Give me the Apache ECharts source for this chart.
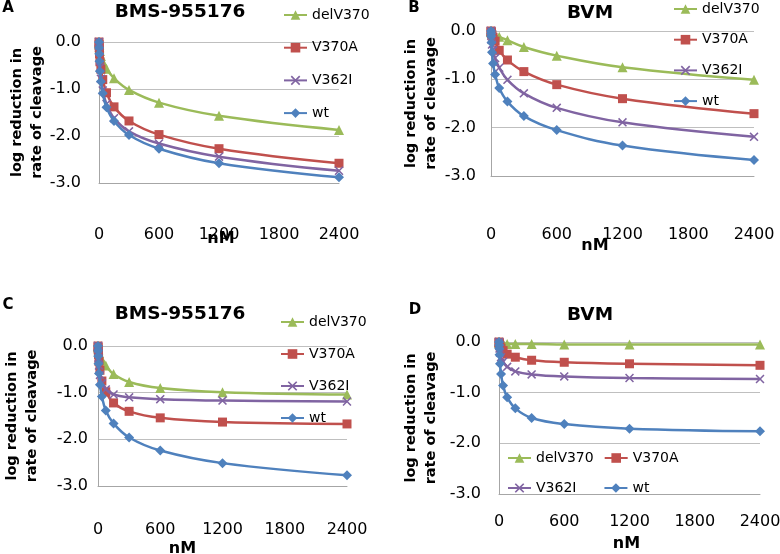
<!DOCTYPE html>
<html>
<head>
<meta charset="utf-8">
<script src="https://cdn.jsdelivr.net/npm/echarts@6/dist/echarts.min.js"></script>
<style>html,body{margin:0;padding:0;background:#fff}#c{width:780px;height:554px}</style>
</head>
<body>
<div id="c"></div>
<script>
// ---- data ----
const doses = [0, 1.17, 2.34, 4.69, 9.38, 18.75, 37.5, 75, 150, 300, 600, 1200, 2400];
const seriesNames = ['delV370', 'V370A', 'V362I', 'wt'];
const xTicks = [0, 600, 1200, 1800, 2400];
const yTicks = [0, -1, -2, -3];
const panelTitles = ['BMS-955176', 'BVM', 'BMS-955176', 'BVM'];
const panelLetters = ['A', 'B', 'C', 'D'];

const A_delV370 = [0, -0.03, -0.06, -0.11, -0.19, -0.30, -0.42, -0.57, -0.77, -1.02, -1.29, -1.57, -1.87];
const A_V370A   = [0, -0.05, -0.12, -0.25, -0.42, -0.58, -0.80, -1.08, -1.38, -1.68, -1.97, -2.27, -2.58];
const A_V362I   = [0, -0.09, -0.19, -0.34, -0.54, -0.78, -1.03, -1.32, -1.62, -1.90, -2.16, -2.44, -2.74];
const A_wt      = [0, -0.12, -0.25, -0.41, -0.62, -0.84, -1.09, -1.39, -1.68, -1.98, -2.27, -2.58, -2.88];

const B_delV370 = [0, -0.01, -0.02, -0.03, -0.05, -0.07, -0.09, -0.12, -0.19, -0.33, -0.51, -0.75, -1.01];
const B_V370A   = [0, -0.01, -0.03, -0.05, -0.08, -0.13, -0.21, -0.40, -0.60, -0.84, -1.11, -1.40, -1.71];
const B_V362I   = [0, -0.05, -0.10, -0.18, -0.28, -0.40, -0.56, -0.76, -1.01, -1.29, -1.59, -1.89, -2.19];
const B_wt      = [0, -0.05, -0.11, -0.24, -0.44, -0.67, -0.90, -1.18, -1.46, -1.76, -2.05, -2.37, -2.67];

const C_delV370 = [0, -0.02, -0.05, -0.09, -0.15, -0.22, -0.30, -0.42, -0.60, -0.77, -0.90, -0.99, -1.04];
const C_V370A   = [0, -0.03, -0.08, -0.18, -0.33, -0.52, -0.75, -0.98, -1.22, -1.40, -1.54, -1.63, -1.67];
const C_V362I   = [0, -0.06, -0.13, -0.25, -0.42, -0.62, -0.80, -0.93, -1.04, -1.10, -1.14, -1.17, -1.19];
const C_wt      = [0, -0.10, -0.22, -0.38, -0.59, -0.83, -1.08, -1.38, -1.66, -1.96, -2.24, -2.51, -2.77];

const D_delV370 = [0, -0.01, -0.01, -0.02, -0.02, -0.03, -0.03, -0.04, -0.04, -0.04, -0.05, -0.05, -0.05];
const D_V370A   = [0, -0.01, -0.03, -0.05, -0.08, -0.12, -0.17, -0.24, -0.30, -0.36, -0.40, -0.43, -0.46];
const D_V362I   = [0, -0.03, -0.07, -0.13, -0.21, -0.30, -0.39, -0.49, -0.58, -0.64, -0.68, -0.71, -0.73];
const D_wt      = [0, -0.06, -0.13, -0.25, -0.43, -0.63, -0.86, -1.09, -1.31, -1.50, -1.62, -1.71, -1.76];

const panelData = [
  [A_delV370, A_V370A, A_V362I, A_wt],
  [B_delV370, B_V370A, B_V362I, B_wt],
  [C_delV370, C_V370A, C_V362I, C_wt],
  [D_delV370, D_V370A, D_V362I, D_wt]
];

// ---- styles / layout ----
const FONT = '"DejaVu Sans", sans-serif';
const colors = ['#9BBB59', '#C0504D', '#8064A2', '#4F81BD'];
const xPath = 'path://M0,1.2L1.2,0L5,3.8L8.8,0L10,1.2L6.2,5L10,8.8L8.8,10L5,6.2L1.2,10L0,8.8L3.8,5Z';
const symbols = ['triangle', 'rect', xPath, 'diamond'];
const symbolSizes = [10, 9, 9, 10];

const grids = [
  {left: 99, top: 42, width: 240, height: 141},
  {left: 491, top: 31, width: 263, height: 145},
  {left: 98, top: 346, width: 249, height: 140},
  {left: 499, top: 342, width: 261, height: 152}
].map(g => Object.assign(g, {outerBoundsMode: 'none', containLabel: false}));
const yLabelMargin = [18, 15, 10, 18];
const yNameGap = [52, 50, 56, 58];
const xLabelMargin = [18, 19, 19, 20];
const xLabelSpacer = [24, 30, 15, 0];
const xNameGap = [48, 62, 55, 42];
const xNamePad = [[0, 0, 0, 4], [0, 55, 0, 0], [0, 80, 0, 0], [0, 6, 0, 0]];
const titlePos = [[180, 12], [590, 13], [180, 314], [590, 315]];
const letterPos = [[8, 8], [414, 8], [8, 305], [415, 310]];

const xAxes = [], yAxes = [], series = [], graphics = [];
grids.forEach((g, p) => {
  const sp = xLabelSpacer[p];
  xAxes.push({
    type: 'value', gridIndex: p, min: 0, max: 2400, interval: 600,
    splitLine: {show: false}, axisTick: {show: false},
    axisLine: {show: true, onZero: false, lineStyle: {color: '#A6A6A6', width: 1}},
    axisLabel: {fontFamily: FONT, fontSize: 16, color: '#000', margin: xLabelMargin[p],
      formatter: v => sp > 0 ? '{g| }\n{v|' + v + '}' : String(v),
      rich: {
        g: {fontSize: 2, lineHeight: sp},
        v: {fontFamily: FONT, fontSize: 16, color: '#000', lineHeight: 19}
      }},
    name: 'nM', nameLocation: 'middle', nameGap: xNameGap[p], nameMoveOverlap: false,
    nameTextStyle: {fontFamily: FONT, fontSize: 16, fontWeight: 'bold', color: '#000', padding: xNamePad[p]}
  });
  yAxes.push({
    type: 'value', gridIndex: p, min: -3, max: 0, interval: 1,
    splitLine: {show: true, lineStyle: {color: '#BFBFBF', width: 1}},
    axisTick: {show: false},
    axisLine: {show: true, onZero: false, lineStyle: {color: '#A6A6A6', width: 1}},
    axisLabel: {fontFamily: FONT, fontSize: 16, color: '#000', margin: yLabelMargin[p],
      formatter: v => v.toFixed(1)},
    name: 'log reduction in\nrate of cleavage', nameLocation: 'middle', nameRotate: 90,
    nameGap: yNameGap[p], nameMoveOverlap: false,
    nameTextStyle: {fontFamily: FONT, fontSize: 14.5, fontWeight: 'bold', color: '#000', lineHeight: 20}
  });
  panelData[p].forEach((vals, s) => {
    series.push({
      type: 'line', name: seriesNames[s], xAxisIndex: p, yAxisIndex: p,
      data: doses.map((d, i) => [d, vals[i]]),
      smooth: 0.4,
      symbol: symbols[s], symbolSize: symbolSizes[s], showSymbol: true,
      lineStyle: {color: colors[s], width: 2.5},
      itemStyle: {color: colors[s]},
      z: 2 + s, animation: false
    });
  });
  graphics.push({
    type: 'text', x: titlePos[p][0], y: titlePos[p][1],
    style: {text: panelTitles[p], font: 'bold 18.5px ' + FONT, fill: '#000', align: 'center', verticalAlign: 'middle'}
  });
  graphics.push({
    type: 'text', x: letterPos[p][0], y: letterPos[p][1],
    style: {text: panelLetters[p], font: 'bold 15px ' + FONT, fill: '#000', align: 'center', verticalAlign: 'middle'}
  });
});

const legendBase = {
  itemWidth: 23, itemHeight: 12,
  textStyle: {fontFamily: FONT, fontSize: 14, color: '#000'},
  selectedMode: false
};
const legends = [
  Object.assign({}, legendBase, {orient: 'vertical', left: 278, top: 3, itemGap: 18.7, data: seriesNames}),
  Object.assign({}, legendBase, {orient: 'vertical', left: 668, top: -3, itemGap: 16.7, data: seriesNames}),
  Object.assign({}, legendBase, {orient: 'vertical', left: 275, top: 310, itemGap: 18.0, data: seriesNames}),
  Object.assign({}, legendBase, {orient: 'horizontal', left: 502, top: 446, itemGap: 10, data: ['delV370', 'V370A']}),
  Object.assign({}, legendBase, {orient: 'horizontal', left: 502, top: 476, itemGap: 27, data: ['V362I', 'wt']})
];

const chart = echarts.init(document.getElementById('c'), null, {renderer: 'canvas'});
chart.setOption({
  animation: false,
  backgroundColor: '#fff',
  grid: grids,
  xAxis: xAxes,
  yAxis: yAxes,
  legend: legends,
  series: series,
  graphic: graphics
});
</script>
</body>
</html>
